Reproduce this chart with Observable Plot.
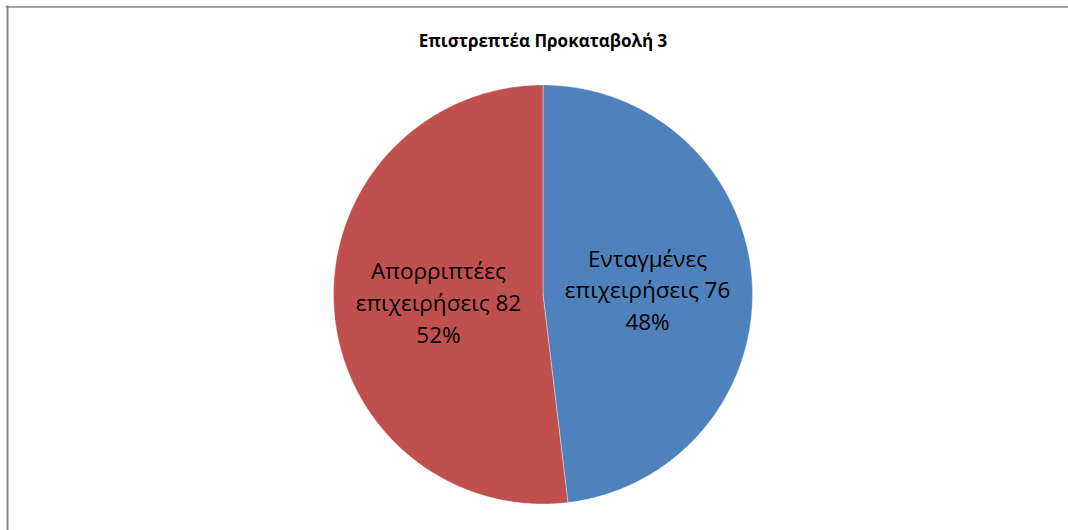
<!DOCTYPE html>
<html>
<head>
<meta charset="utf-8">
<script src="https://cdn.jsdelivr.net/npm/d3@7"></script>
<script src="https://cdn.jsdelivr.net/npm/@observablehq/plot@0.6"></script>
<style>
  html, body { margin: 0; padding: 0; background: #fff; }
  #chart svg { display: block; }
</style>
</head>
<body>
<div id="chart"></div>
<script>
const title = "Επιστρεπτέα Προκαταβολή 3";
const categories = ["Ενταγμένες επιχειρήσεις", "Απορριπτέες επιχειρήσεις"];
const values = [76, 82];
const percents = ["48%", "52%"];
const colors = ["#4F81BD", "#C0504D"];
const labelLines = [["Ενταγμένες", "επιχειρήσεις 76", "48%"], ["Απορριπτέες", "επιχειρήσεις 82", "52%"]];

const table = categories.map((c, i) => ({name: c, value: values[i], color: colors[i], label: labelLines[i].join("\n")}));
const arcs = d3.pie().sort(null).value(d => d.value)(table);

// slice outlines in unit (domain) coordinates, angles clockwise from 12 o'clock
const slicePts = [];
arcs.forEach(a => {
  const n = Math.max(2, Math.ceil((a.endAngle - a.startAngle) / (Math.PI / 360)));
  slicePts.push({name: a.data.name, color: a.data.color, x: 0, y: 0});
  for (let k = 0; k <= n; k++) {
    const t = a.startAngle + (a.endAngle - a.startAngle) * k / n;
    slicePts.push({name: a.data.name, color: a.data.color, x: Math.sin(t), y: Math.cos(t)});
  }
  slicePts.push({name: a.data.name, color: a.data.color, x: 0, y: 0});
});
const labelPts = arcs.map(a => {
  const m = (a.startAngle + a.endAngle) / 2;
  return {x: 0.5 * Math.sin(m), y: 0.5 * Math.cos(m), label: a.data.label};
});

const chart = Plot.plot({
  width: 1068,
  height: 530,
  margin: 0,
  x: {domain: [-1, 1], range: [333, 752], axis: null},
  y: {domain: [-1, 1], range: [503.5, 84.5], axis: null},
  style: {fontFamily: "'Open Sans', 'Noto Sans', sans-serif", background: "#fff"},
  marks: [
    Plot.frame({anchor: "left", insetLeft: 7, insetTop: 6, stroke: "#888", strokeWidth: 2}),
    Plot.frame({anchor: "top", insetTop: 6.5, insetLeft: 6, stroke: "#888", strokeWidth: 1.5}),
    Plot.line(slicePts, {x: "x", y: "y", z: "name", fill: "color", stroke: "#ffffff", strokeWidth: 0.6, strokeOpacity: 0.6, curve: "linear"}),
    Plot.text(labelPts, {x: "x", y: "y", text: "label", fontSize: 22.5, lineHeight: 1.42, fill: "#000", lineAnchor: "middle", textAnchor: "middle"}),
    Plot.text([title], {text: d => d, frameAnchor: "top", dx: 8.5, dy: 46, lineAnchor: "bottom", fontSize: 17, fontWeight: "bold", fill: "#000"})
  ]
});
document.getElementById("chart").append(chart);
</script>
</body>
</html>
